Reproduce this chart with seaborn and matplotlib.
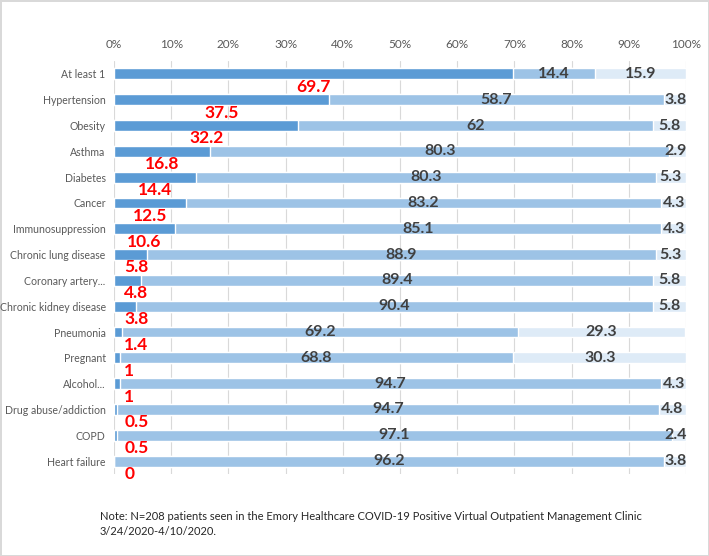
import matplotlib
matplotlib.use("Agg")
import matplotlib.pyplot as plt
import seaborn as sns
import numpy as np
import pandas as pd

categories = ["At least 1", "Hypertension", "Obesity", "Asthma", "Diabetes", "Cancer",
              "Immunosuppression", "Chronic lung disease", "Coronary artery...",
              "Chronic kidney disease", "Pneumonia", "Pregnant", "Alcohol...",
              "Drug abuse/addiction", "COPD", "Heart failure"]
yes_vals = [69.7, 37.5, 32.2, 16.8, 14.4, 12.5, 10.6, 5.8, 4.8, 3.8, 1.4, 1, 1, 0.5, 0.5, 0]
no_vals = [14.4, 58.7, 62, 80.3, 80.3, 83.2, 85.1, 88.9, 89.4, 90.4, 69.2, 68.8, 94.7, 94.7, 97.1, 96.2]
unk_vals = [15.9, 3.8, 5.8, 2.9, 5.3, 4.3, 4.3, 5.3, 5.8, 5.8, 29.3, 30.3, 4.3, 4.8, 2.4, 3.8]
x_ticks = [0, 10, 20, 30, 40, 50, 60, 70, 80, 90, 100]

df = pd.DataFrame({"cat": categories, "yes": yes_vals, "no": no_vals, "unk": unk_vals})
df["c2"] = df["yes"] + df["no"]
df["c3"] = (df["c2"] + df["unk"]).clip(upper=100)

sns.set_style("white")
plt.rcParams["font.family"] = ["Lato", "DejaVu Sans"]

fig = plt.figure(figsize=(7.09, 5.56), dpi=100, edgecolor="#d9d9d9", linewidth=2)
ax = fig.add_axes([0.1608, 0.1475, 0.8068, 0.7428])

bw = 0.42
sns.barplot(data=df, y="cat", x="c3", color="#DEEBF7", width=bw, ax=ax, saturation=1, zorder=2)
sns.barplot(data=df, y="cat", x="c2", color="#9DC3E6", width=bw, ax=ax, saturation=1, zorder=3)
sns.barplot(data=df, y="cat", x="yes", color="#5B9BD5", width=bw, ax=ax, saturation=1, zorder=4)

ax.set_xlim(0, 100)
ax.set_ylim(15.5, -0.5)
ax.xaxis.tick_top()
ax.set_xticks(x_ticks)
ax.set_xticklabels([f"{t}%" for t in x_ticks], color="#595959", fontsize=8.5)
ax.tick_params(axis="y", labelsize=7.6, labelcolor="#595959", length=0, pad=6)
ax.tick_params(axis="x", length=0, pad=8)
ax.set_xlabel("")
ax.set_ylabel("")
ax.grid(axis="x", color="#d9d9d9", linewidth=0.8, zorder=0)
ax.set_axisbelow(True)
for s in ax.spines.values():
    s.set_visible(False)

for i, (y, n, u) in enumerate(zip(yes_vals, no_vals, unk_vals)):
    xr = y / 2 if y / 2 > 3.5 else 1.8
    ha = "center" if y / 2 > 3.5 else "left"
    ax.text(xr, i + 0.5, f"{y:g}", color="red", fontsize=12.5, fontweight="bold",
            ha=ha, va="center", zorder=6)
    ax.text(y + n / 2, i, f"{n:g}", color="#404040", fontsize=11.5, fontweight="bold",
            ha="center", va="center", zorder=6)
    ax.text(min(y + n + u / 2, 98.1), i, f"{u:g}", color="#404040", fontsize=11.5,
            fontweight="bold", ha="center", va="center", zorder=6)

fig.text(0.141, 0.0576, "Note: N=208 patients seen in the Emory Healthcare COVID-19 Positive Virtual Outpatient Management Clinic\n3/24/2020-4/10/2020.",
         fontsize=8, color="#262626", ha="left", va="center", linespacing=1.5)

fig.savefig("out.png", dpi=100)
